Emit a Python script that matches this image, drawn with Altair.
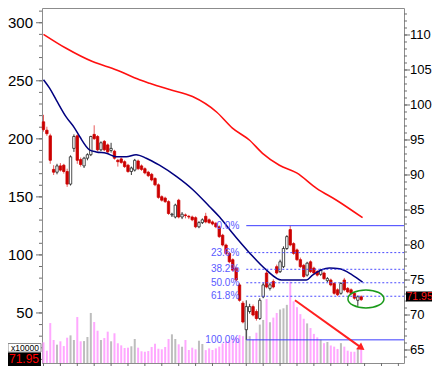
import altair as alt
import pandas as pd

# ---- candle data (price, right axis) ----
opens = [97.6, 96.4, 95.6, 90.8, 90.4, 91.3, 91.4, 90.5, 88.7, 93.8,
         95.6, 92.2, 91.3, 92.4, 92.9, 95.8, 95.5, 93.6, 94.8, 94.3,
         93.5, 93.4, 92.1, 92.3, 91.9, 91.4, 90.5, 90.7, 92.0, 91.3,
         90.9, 90.4, 90.1, 89.5, 88.6, 86.9, 86.7, 86.2, 84.3, 84.0,
         86.4, 84.0, 84.3, 84.1, 84.0, 83.9, 82.6, 83.2, 84.1, 83.6,
         83.3, 83.1, 82.6, 81.4, 80.0, 78.8, 77.9, 76.7, 74.3, 71.7,
         67.9, 70.5, 71.2, 70.5, 69.5, 72.6, 76.0, 73.8, 74.8, 76.9,
         76.2, 76.9, 79.5, 82.2, 80.2, 79.3, 77.9, 77.1, 75.7, 77.6,
         76.7, 76.2, 75.8, 76.0, 74.9, 75.0, 74.5, 73.6, 73.1, 75.0,
         73.8, 73.6, 73.1, 72.1, 72.6]
highs = [98.6, 96.9, 95.9, 91.4, 91.6, 91.7, 91.6, 90.9, 92.8, 95.8,
         95.8, 92.5, 92.6, 93.1, 95.6, 97.1, 95.7, 94.8, 95.0, 94.5,
         94.6, 93.6, 92.3, 92.5, 92.1, 91.6, 91.2, 92.3, 92.2, 91.5,
         91.1, 90.6, 90.3, 89.7, 88.8, 87.1, 86.9, 86.4, 84.6, 85.9,
         86.6, 84.7, 84.5, 84.3, 84.2, 84.1, 83.4, 83.8, 84.6, 83.8,
         83.5, 83.3, 82.8, 81.6, 80.2, 79.0, 78.1, 76.9, 74.6, 72.0,
         72.1, 71.6, 71.5, 70.8, 72.4, 74.6, 76.3, 74.6, 75.1, 77.2,
         77.9, 79.8, 81.4, 82.76, 80.4, 79.5, 78.2, 77.3, 77.6, 77.8,
         76.9, 76.4, 76.6, 76.2, 75.4, 75.2, 74.7, 73.8, 74.7, 75.3,
         74.0, 73.8, 73.3, 72.8, 72.8]
lows = [96.2, 95.6, 91.6, 90.0, 90.1, 90.5, 90.2, 88.3, 88.5, 93.3,
        91.6, 91.2, 91.0, 92.1, 92.7, 95.0, 93.4, 93.4, 93.4, 93.1,
        93.2, 92.2, 91.2, 91.6, 91.0, 90.3, 90.0, 90.5, 90.7, 90.6,
        90.1, 89.7, 89.1, 88.4, 86.6, 86.2, 86.0, 84.3, 84.0, 83.8,
        83.8, 83.7, 83.8, 83.7, 83.4, 82.4, 82.4, 83.0, 83.1, 83.0,
        82.8, 82.4, 81.0, 79.8, 78.6, 77.4, 76.2, 74.8, 71.9, 68.8,
        66.45, 70.2, 69.8, 69.2, 69.3, 72.4, 73.8, 73.5, 73.8, 75.8,
        76.0, 76.7, 79.3, 79.8, 78.6, 77.7, 76.7, 75.3, 75.5, 76.0,
        75.8, 75.5, 75.6, 75.0, 74.7, 74.1, 72.9, 72.7, 72.9, 73.4,
        73.1, 72.9, 72.2, 71.3, 72.0]
closes = [96.5, 95.9, 92.1, 90.4, 91.3, 90.7, 90.5, 88.7, 92.6, 95.5,
          92.1, 91.5, 92.4, 92.9, 95.5, 95.2, 93.6, 94.6, 93.6, 93.3,
          93.8, 92.4, 91.9, 91.8, 91.2, 90.5, 91.0, 92.1, 90.9, 90.8,
          90.3, 89.9, 89.3, 88.6, 86.8, 86.4, 86.2, 84.5, 84.4, 85.7,
          84.0, 84.4, 84.2, 84.0, 83.6, 82.6, 83.2, 83.6, 83.3, 83.2,
          83.0, 82.6, 81.2, 80.0, 78.8, 77.6, 76.4, 75.0, 72.1, 69.0,
          71.2, 71.2, 70.0, 69.5, 72.1, 74.3, 74.0, 74.3, 74.0, 76.0,
          77.6, 79.5, 81.2, 80.0, 78.8, 77.9, 76.9, 75.5, 77.4, 76.2,
          76.0, 75.7, 76.4, 75.2, 75.2, 74.3, 73.1, 72.9, 74.5, 73.6,
          73.3, 73.1, 72.4, 72.6, 72.2]
# ---- volume (x10000, left axis) ----
volumes = [24.7, 17.5, 41.3, 26.7, 22.7, 25.6, 21.5, 28.7, 30.7, 26.7,
           46.5, 25.6, 25.8, 29.3, 50.0, 42.2, 34.7, 26.7, 28.4, 33.9,
           25.6, 32.5, 23.9, 22.1, 19.8, 20.1, 21.3, 27.6, 20.1, 17.0,
           16.6, 17.2, 20.7, 23.5, 19.2, 18.7, 20.7, 27.6, 31.6, 27.6,
           23.0, 20.9, 26.7, 18.1, 20.1, 18.7, 26.1, 23.3, 18.0, 19.5,
           18.1, 19.5, 21.0, 23.8, 25.5, 26.7, 28.0, 29.5, 31.0, 30.0,
           35.3, 30.0, 27.0, 33.0, 40.0, 44.0, 62.0, 42.0, 46.0, 50.0,
           53.0, 54.0, 57.0, 77.0, 60.0, 55.0, 49.0, 45.0, 41.0, 37.0,
           32.0, 29.0, 27.0, 24.0, 25.0, 22.0, 21.0, 19.0, 24.0, 21.0,
           17.5, 16.6, 16.6, 19.5, 20.0]

# ---- moving averages (candle index, price) ----
red_ma_idx = [0, 6.7, 14.5, 21.6, 28.4, 31.4, 37.3, 44.1, 51.2, 55.9,
              60.9, 64.8, 69.8, 74.9, 80.8, 86.7, 94.4]
red_ma_val = [110.1, 108.1, 106.2, 105.0, 103.6, 103.1, 102.2, 101.2, 99.0, 96.7,
              95.0, 93.1, 91.4, 90.3, 88.1, 86.4, 83.9]
blue_ma_idx = [0, 1.8, 3.8, 6.7, 9.2, 10.7, 13.6, 15.6, 18.6, 21.5, 24.5, 27.4,
               30.4, 34.3, 39.3, 44.2, 49.1, 52.1, 55.9, 60.9, 66.0, 70.4, 77.8,
               79.6, 84.6, 87.6, 91.4, 94.4]
blue_ma_val = [103.6, 102.4, 100.7, 98.3, 96.7, 95.5, 93.6, 93.3, 93.1, 92.6, 92.6, 92.9,
               92.4, 91.4, 89.8, 87.9, 85.5, 84.0, 81.7, 78.9, 76.4, 75.0, 75.0,
               75.7, 76.7, 76.6, 75.7, 74.7]

# ---- Fibonacci retracement ----
fib_ratios = [0.0, 0.236, 0.382, 0.5, 0.618, 1.0]
fib_labels = ["0.0%", "23.6%", "38.2%", "50.0%", "61.8%", "100.0%"]

# ---- annotations ----
arrow_idx = [74.4, 94.1]
arrow_val = [72.1, 65.3]
circle_idx = [95.4]
circle_val = [72.3]

left_ticks = [50, 100, 150, 200, 250, 300]
left_minor = list(range(10, 311, 10))
right_ticks = [65, 70, 75, 80, 85, 90, 95, 100, 105, 110]
right_minor = list(range(64, 114))
week_ticks = list(range(0, 107, 5))
last_price_text = "71.95"
unit_text = "x10000"

# ---------------------------------------------------------------
W, H = 362, 355
X_MIN, X_MAX = -0.44, 106.66
V_MIN, V_MAX = 6.9, 312.7
P_MIN, P_MAX = 63.143, 113.857

n = len(closes)
candles = pd.DataFrame({"i": list(range(n)), "open": opens, "high": highs,
                        "low": lows, "close": closes, "vol": volumes})
candles["up"] = candles["close"] >= candles["open"]

low_i = int(candles["low"].idxmin())
fib_low = candles["low"].min()
fib_high = candles.loc[low_i:, "high"].max()
fib = pd.DataFrame({"ratio": fib_ratios, "label": fib_labels})
fib["level"] = fib_high - fib["ratio"] * (fib_high - fib_low)
fib["start"] = low_i
fib["solid"] = fib["ratio"].isin([0.0, 1.0])

red_df = pd.DataFrame({"i": red_ma_idx, "v": red_ma_val})
blue_df = pd.DataFrame({"i": blue_ma_idx, "v": blue_ma_val})
arrow_df = pd.DataFrame({"i": arrow_idx, "v": arrow_val})
head_df = arrow_df.tail(1)
circle_df = pd.DataFrame({"i": circle_idx, "v": circle_val})
lmaj_df = pd.DataFrame({"v": left_ticks})
lminor_df = pd.DataFrame({"v": left_minor})
rmaj_df = pd.DataFrame({"v": right_ticks})
rminor_df = pd.DataFrame({"v": right_minor})
week_df = pd.DataFrame({"i": week_ticks})
one = pd.DataFrame({"t": [last_price_text], "u": [unit_text]})

xs = alt.Scale(domain=[X_MIN, X_MAX], nice=False, zero=False, padding=0)
vs = alt.Scale(domain=[V_MIN, V_MAX], nice=False, zero=False, padding=0)
ps = alt.Scale(domain=[P_MIN, P_MAX], nice=False, zero=False, padding=0)

AX = "#6e6e6e"
X = lambda f: alt.X(f, scale=xs, axis=None)
YV = lambda f: alt.Y(f, scale=vs, axis=None)
YP = lambda f: alt.Y(f, scale=ps, axis=None)

# volume bars (left scale)
vol = alt.Chart(candles).mark_bar(width=2, clip=True).encode(
    x=X("i:Q"), y=YV("vol:Q"), y2=alt.value(H),
    color=alt.condition("datum.up", alt.value("#bdbdbd"), alt.value("#ffa8ff")),
)
# left axis (volume)
l_minor = alt.Chart(lminor_df).mark_rule(color=AX).encode(
    y=YV("v:Q"), x=alt.value(-3), x2=alt.value(0))
l_major = alt.Chart(lmaj_df).mark_rule(color=AX).encode(
    y=YV("v:Q"), x=alt.value(-6), x2=alt.value(0))
l_labels = alt.Chart(lmaj_df).mark_text(align="right", baseline="middle", fontSize=15,
                                        color="#000").encode(
    y=YV("v:Q"), x=alt.value(-9), text="v:Q")

# candles (right scale)
wicks = alt.Chart(candles).mark_rule(strokeWidth=1).encode(
    x=X("i:Q"), y=YP("low:Q"), y2="high:Q",
    color=alt.condition("datum.up", alt.value("#333333"), alt.value("#e85a5a")),
)
bodies = alt.Chart(candles).mark_bar(width=2.4, strokeWidth=0.8).encode(
    x=X("i:Q"), y=YP("open:Q"), y2="close:Q",
    fill=alt.condition("datum.up", alt.value("#ffffff"), alt.value("#cc0000")),
    stroke=alt.condition("datum.up", alt.value("#222222"), alt.value("#cc0000")),
)
red_line = alt.Chart(red_df).mark_line(color="#ff1010", strokeWidth=1.6,
                                       interpolate="monotone").encode(x=X("i:Q"), y=YP("v:Q"))
blue_line = alt.Chart(blue_df).mark_line(color="#00007f", strokeWidth=1.5,
                                         interpolate="monotone").encode(x=X("i:Q"), y=YP("v:Q"))

fib_solid = alt.Chart(fib).transform_filter("datum.solid").mark_rule(
    color="#3a3aff", strokeWidth=1).encode(x=X("start:Q"), x2=alt.value(W), y=YP("level:Q"))
fib_dot = alt.Chart(fib).transform_filter("!datum.solid").mark_rule(
    color="#4a4aff", strokeWidth=1, strokeDash=[2, 2]).encode(
    x=X("start:Q"), x2=alt.value(W), y=YP("level:Q"))
fib_text = alt.Chart(fib).mark_text(align="right", baseline="middle", dx=-7, fontSize=10,
                                    color="#5a5aff").encode(
    x=X("start:Q"), y=YP("level:Q"), text="label:N")

# right axis (price)
r_minor = alt.Chart(rminor_df).mark_rule(color=AX).encode(
    y=YP("v:Q"), x=alt.value(W), x2=alt.value(W + 3))
r_major = alt.Chart(rmaj_df).mark_rule(color=AX).encode(
    y=YP("v:Q"), x=alt.value(W), x2=alt.value(W + 6))
r_labels = alt.Chart(rmaj_df).mark_text(align="left", baseline="middle", fontSize=13,
                                        color="#000").encode(
    y=YP("v:Q"), x=alt.value(W + 6), text="v:Q")

# bottom ticks
b_ticks = alt.Chart(week_df).mark_rule(color=AX).encode(
    x=X("i:Q"), y=alt.value(H), y2=alt.value(H + 3))

arrow = alt.Chart(arrow_df).mark_line(color="#ff2020", strokeWidth=2).encode(
    x=X("i:Q"), y=YP("v:Q"))
head = alt.Chart(head_df).mark_point(shape="triangle-right", angle=36, size=70, filled=True,
                                     color="#ff2020", opacity=1).encode(
    x=X("i:Q"), y=YP("v:Q"))
ellipse = alt.Chart(circle_df).mark_point(
    shape="M -1 0 A 1 0.5 0 1 1 1 0 A 1 0.5 0 1 1 -1 0 Z", size=1296, filled=False,
    color="#1a9a1a", strokeWidth=1.5, opacity=1).encode(x=X("i:Q"), y=YP("v:Q"))

price_box = alt.Chart(one).mark_rect(color="#000000").encode(
    x=alt.value(W + 2), x2=alt.value(W + 28), y=alt.value(283.5), y2=alt.value(293.5))
price_txt = alt.Chart(one).mark_text(align="left", baseline="middle", fontSize=10.5,
                                     color="#ff1a1a").encode(
    x=alt.value(W + 2.5), y=alt.value(288.8), text="t:N")
unit_box = alt.Chart(one).mark_rect(fill="#ffffff", stroke="#8a8a8a", strokeWidth=1).encode(
    x=alt.value(-34), x2=alt.value(-1), y=alt.value(335.5), y2=alt.value(344))
unit_txt = alt.Chart(one).mark_text(align="left", baseline="middle", fontSize=8.5,
                                    color="#000").encode(
    x=alt.value(-31), y=alt.value(340), text="u:N")
last_box = alt.Chart(one).mark_rect(color="#000000").encode(
    x=alt.value(-34), x2=alt.value(-1), y=alt.value(344.5), y2=alt.value(358))
last_txt = alt.Chart(one).mark_text(align="left", baseline="top", fontSize=12,
                                    color="#ff0000").encode(
    x=alt.value(-33), y=alt.value(346), text="t:N")

chart = alt.layer(
    vol, l_minor, l_major, l_labels,
    wicks, bodies, red_line, blue_line, fib_solid, fib_dot, fib_text,
    r_minor, r_major, r_labels, b_ticks, arrow, head, ellipse,
    price_box, price_txt, unit_box, unit_txt, last_box, last_txt,
).resolve_scale(y="independent").properties(
    width=W, height=H,
    autosize=alt.AutoSizeParams(type="none"),
    padding={"left": 34, "top": 0, "right": 28, "bottom": 3},
).configure_view(stroke="#8c8c8c", strokeWidth=1).configure_text(font="Liberation Sans")

chart.save("out.html", embed_options={"renderer": "svg", "actions": False})
